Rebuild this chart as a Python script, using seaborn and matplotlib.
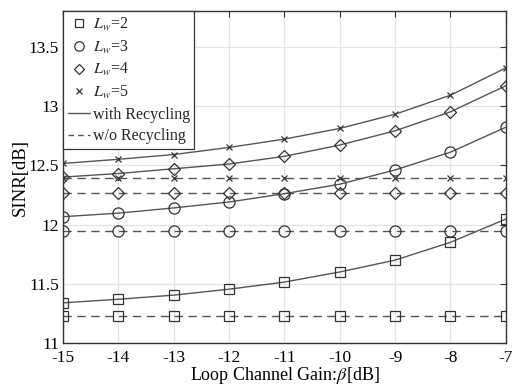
import matplotlib
matplotlib.use("Agg")
import matplotlib.pyplot as plt
from matplotlib.lines import Line2D
import seaborn as sns
import pandas as pd

beta = [-15, -14, -13, -12, -11, -10, -9, -8, -7]
lw_labels = ["2", "3", "4", "5"]
with_rec = {
    "2": [11.34, 11.37, 11.405, 11.455, 11.515, 11.60, 11.70, 11.85, 12.046],
    "3": [12.066, 12.096, 12.14, 12.19, 12.26, 12.34, 12.46, 12.61, 12.82],
    "4": [12.40, 12.43, 12.47, 12.51, 12.575, 12.67, 12.79, 12.95, 13.17],
    "5": [12.515, 12.55, 12.59, 12.65, 12.72, 12.81, 12.93, 13.09, 13.32],
}
wo_rec = {"2": 11.23, "3": 11.945, "4": 12.265, "5": 12.395}
markers = {"2": "s", "3": "o", "4": "D", "5": "x"}
msizes = {"2": 6.5, "3": 8, "4": 6.5, "5": 5}

sns.set_theme(style="whitegrid")
plt.rcParams["font.family"] = ["Liberation Serif", "DejaVu Serif"]
plt.rcParams["mathtext.fontset"] = "stix"

fig = plt.figure(figsize=(5.14, 3.86), dpi=100)
ax = fig.add_axes([0.1226, 0.111, 0.8614, 0.8605])
ax.set_facecolor("white")
line_col = "#555555"

for k in lw_labels:
    df = pd.DataFrame({"beta": beta, "sinr": with_rec[k]})
    sns.lineplot(data=df, x="beta", y="sinr", ax=ax, color=line_col, lw=1.0,
                 marker=markers[k], markersize=msizes[k], markerfacecolor="none",
                 markeredgecolor="#333333", markeredgewidth=0.9, legend=False)
    df2 = pd.DataFrame({"beta": beta, "sinr": [wo_rec[k]] * len(beta)})
    sns.lineplot(data=df2, x="beta", y="sinr", ax=ax, color=line_col, lw=1.0,
                 linestyle=(0, (6, 4)),
                 marker=markers[k], markersize=msizes[k], markerfacecolor="none",
                 markeredgecolor="#333333", markeredgewidth=0.9, legend=False)

ax.set_xlim(-15, -7)
ax.set_ylim(11, 13.8)
ax.set_xticks(beta)
ax.set_xticklabels([str(b) for b in beta])
ax.set_yticks([11, 11.5, 12, 12.5, 13, 13.5])
ax.set_yticklabels(["11", "11.5", "12", "12.5", "13", "13.5"])
ax.grid(True, color="#e3e3e3", lw=0.9)
for s in ax.spines.values():
    s.set_color("#333333")
    s.set_linewidth(1.0)
    s.set_visible(True)
ax.tick_params(direction="in", length=4, width=0.8, color="#333333",
               top=True, right=True, labelsize=12.5, labelcolor="black", pad=3)
ax.tick_params(axis="x", pad=5)
ax.set_xlabel(r"Loop Channel Gain:$\it{\beta}$[dB]", fontsize=13, labelpad=-1, color="black")
ax.set_ylabel("SINR[dB]", fontsize=13.5, labelpad=0, color="black")

handles = []
for k in lw_labels:
    handles.append(Line2D([], [], linestyle="none", marker=markers[k], markersize=msizes[k] * 0.85,
                          markerfacecolor="none", markeredgecolor="#333333", markeredgewidth=0.9,
                          label=r"$L_w$=" + k))
handles.append(Line2D([], [], color=line_col, lw=1.0, label="with Recycling"))
handles.append(Line2D([], [], color=line_col, lw=1.0, linestyle=(0, (4, 3)), label="w/o Recycling"))
leg = ax.legend(handles=handles, loc="upper left", bbox_to_anchor=(0, 1), fontsize=11.5,
                frameon=True, fancybox=False, edgecolor="#333333", framealpha=1,
                handlelength=1.4, handletextpad=0.15, labelspacing=0.35, borderpad=0.3,
                borderaxespad=0)
leg.get_frame().set_linewidth(0.9)

fig.savefig("out.png", dpi=100)
